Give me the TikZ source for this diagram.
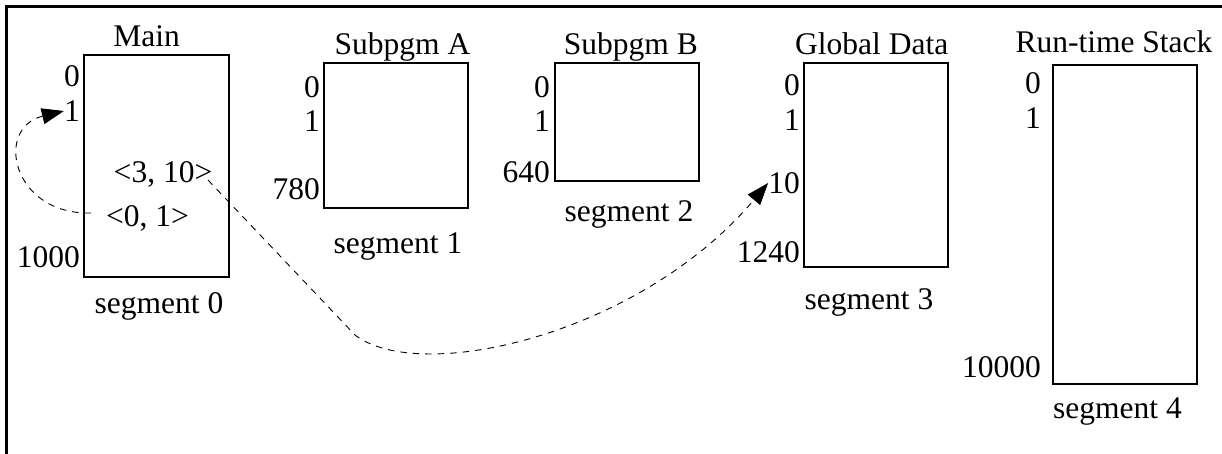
\documentclass[tikz,border=0pt]{standalone}
\usepackage{fontspec}
\setmainfont{Liberation Serif}
\usetikzlibrary{arrows.meta}
\begin{document}
\begin{tikzpicture}[x=1pt,y=-1pt,
  seg/.style={draw, line width=1.2pt, inner sep=0pt},
  lbl/.style={inner sep=0pt, font=\fontsize{31.5}{37}\selectfont},
  num/.style={lbl, anchor=east},
  txt/.style={lbl, anchor=base},
  ptr/.style={line width=0.9pt, dash pattern=on 6.5pt off 6pt,
              -{Triangle[length=22pt,width=16pt]}}]
\useasboundingbox (0,0) rectangle (1222,454);
% page frame: left and top rules only
\draw[line width=3pt] (6.5,454) -- (6.5,6.5) -- (1222,6.5);

% segments
\node[seg, minimum width=145pt, minimum height=222pt] (main)  at (156.5,166) {};
\node[seg, minimum width=144pt, minimum height=145pt] (suba)  at (396,135.5) {};
\node[seg, minimum width=144pt, minimum height=118pt] (subb)  at (627,122) {};
\node[seg, minimum width=144pt, minimum height=204pt] (glob)  at (876,165) {};
\node[seg, minimum width=144pt, minimum height=319pt] (stack) at (1125,224.5) {};

% titles
\node[txt] (tmain)  at (146.7,46.7) {Main};
\node[txt] (tsuba)  at (402.5,55) {Subpgm A};
\node[txt] (tsubb)  at (630.8,55) {Subpgm B};
\node[txt] (tglob)  at (871.7,55) {Global Data};
\node[txt] (tstack) at (1114,53) {Run-time Stack};

% captions
\node[txt] (cmain)  at (159,313) {segment 0};
\node[txt] (csuba)  at (398,254) {segment 1};
\node[txt] (csubb)  at (629,222) {segment 2};
\node[txt] (cglob)  at (869,309) {segment 3};
\node[txt] (cstack) at (1117.5,418) {segment 4};

% offsets, segment 0
\node[num] (m0)    at (80,76)  {0};
\node[num] (m1)    at (80,111) {1};
\node[num] (m1000) at (80,257) {1000};
% offsets, segment 1
\node[num] (a0)   at (320,86.7) {0};
\node[num] (a1)   at (320,121)  {1};
\node[num] (a780) at (320,189.5) {780};
% offsets, segment 2
\node[num] (b0)   at (550,86.7) {0};
\node[num] (b1)   at (550,121)  {1};
\node[num] (b640) at (550,171.7) {640};
% offsets, segment 3
\node[num] (g0)    at (800,85)    {0};
\node[num] (g1)    at (800,120)   {1};
\node[num] (g10)   at (800,183)   {10};
\node[num] (g1240) at (800,251.7) {1240};
% offsets, segment 4
\node[num] (s0)     at (1041,83)  {0};
\node[num] (s1)     at (1041,118) {1};
\node[num] (s10000) at (1041,367) {10000};

% logical addresses stored in segment 0
\node[txt] (p310) at (163,183)   {<3, 10>};
\node[txt] (p01)  at (147.5,227) {<0, 1>};

% pointer <0, 1> back into segment 0
\coordinate (from01) at (91,213);
\draw[ptr] (from01) .. controls (12,215) and (-6,128) .. (m1.west);

% pointer <3, 10> into the global data segment
\coordinate (from310) at (208,180);
\coordinate (bend) at (355,335);
\draw[ptr] (from310) -- (bend) .. controls (420,385) and (640,335) .. (g10.west);
\end{tikzpicture}
\end{document}
